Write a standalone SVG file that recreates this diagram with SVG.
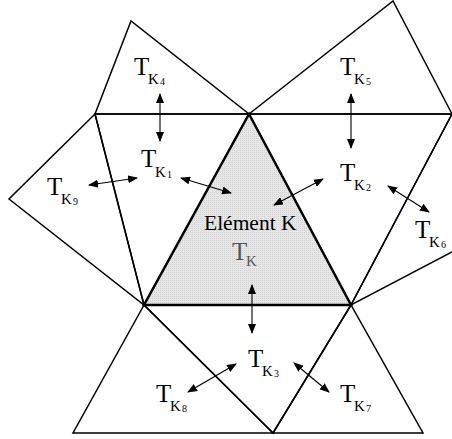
<svg xmlns="http://www.w3.org/2000/svg" width="452" height="439" viewBox="0 0 452 439">
<defs>
<marker id="ah" viewBox="0 0 10 8" refX="9" refY="4" markerWidth="10" markerHeight="8" markerUnits="userSpaceOnUse" orient="auto-start-reverse">
<path d="M0,0 L10,4 L0,8 Z" fill="#000"/>
</marker>
<pattern id="dots" width="2" height="2" patternUnits="userSpaceOnUse">
<rect width="2" height="2" fill="#e6e6e6"/>
<rect width="1" height="1" fill="#d4d4d4"/>
</pattern>
</defs>
<style>
.edge{fill:none;stroke:#000;stroke-width:1.5;stroke-linejoin:miter}
.ctr{fill:url(#dots);stroke:#000;stroke-width:2.5;stroke-linejoin:miter}
.arr{stroke:#000;stroke-width:1.1;fill:none;marker-start:url(#ah);marker-end:url(#ah)}
.t{font-family:"Liberation Serif","Times New Roman",serif;font-size:25px;fill:#000}
.k{font-family:"Liberation Serif","Times New Roman",serif;font-size:15px;fill:#000}
.d{font-family:"Liberation Serif","Times New Roman",serif;font-size:10px;fill:#000}
.lab{font-family:"Liberation Serif","Times New Roman",serif;font-size:21.5px;fill:#000}
.g{fill:#555}
</style>
<g id="mesh">
<g id="K4"><polygon class="edge" points="95,114 131,21 249,114"/></g>
<g id="K5"><polygon class="edge" points="249,114 393,1 452,114"/></g>
<g id="K1"><polygon class="edge" points="95,114 249,114 144,305"/></g>
<g id="K9"><polygon class="edge" points="95,114 9,199 144,305"/></g>
<g id="K2"><polygon class="edge" points="249,114 452,114 351,305"/></g>
<g id="K6"><polyline class="edge" points="452,114 351,305 452,252"/></g>
<g id="K3"><polygon class="edge" points="144,305 351,305 273,433"/></g>
<g id="K8"><polygon class="edge" points="144,305 73,433 273,433"/></g>
<g id="K7"><polygon class="edge" points="351,305 273,433 423,433"/></g>
<g id="K"><polygon class="ctr" points="249,114 144,305 351,305"/></g>
</g>
<g id="connectors">
<line class="arr" x1="160" y1="94" x2="160" y2="141"/>
<line class="arr" x1="351" y1="94" x2="351" y2="148"/>
<line class="arr" x1="89" y1="185" x2="137" y2="178"/>
<line class="arr" x1="181" y1="178" x2="231" y2="193"/>
<line class="arr" x1="274" y1="205" x2="323" y2="179"/>
<line class="arr" x1="388" y1="186" x2="429" y2="212"/>
<line class="arr" x1="252" y1="285" x2="252" y2="333"/>
<line class="arr" x1="188" y1="392" x2="236" y2="364"/>
<line class="arr" x1="294" y1="363" x2="329" y2="392"/>
</g>
<g id="labels">
<g id="L4"><text class="t" x="134" y="75">T</text><text class="k" x="148" y="84">K</text><text class="d" x="160" y="85">4</text></g>
<g id="L5"><text class="t" x="340" y="75">T</text><text class="k" x="354" y="84">K</text><text class="d" x="366" y="85">5</text></g>
<g id="L1"><text class="t" x="141" y="167">T</text><text class="k" x="155" y="177">K</text><text class="d" x="167" y="178">1</text></g>
<g id="L9"><text class="t" x="47" y="195">T</text><text class="k" x="61" y="204">K</text><text class="d" x="73" y="205">9</text></g>
<g id="L2"><text class="t" x="340" y="181">T</text><text class="k" x="354" y="190">K</text><text class="d" x="366" y="191">2</text></g>
<g id="L6"><text class="t" x="415" y="238">T</text><text class="k" x="429" y="247">K</text><text class="d" x="441" y="248">6</text></g>
<g id="LK"><text class="lab" x="204" y="230">Elément K</text><text class="t g" x="232" y="260">T</text><text class="k g" x="246" y="266">K</text></g>
<g id="L3"><text class="t" x="248" y="367">T</text><text class="k" x="262" y="376">K</text><text class="d" x="274" y="377">3</text></g>
<g id="L7"><text class="t" x="340" y="402">T</text><text class="k" x="354" y="411">K</text><text class="d" x="366" y="412">7</text></g>
<g id="L8"><text class="t" x="156" y="402">T</text><text class="k" x="170" y="411">K</text><text class="d" x="182" y="412">8</text></g>
</g>
</svg>
